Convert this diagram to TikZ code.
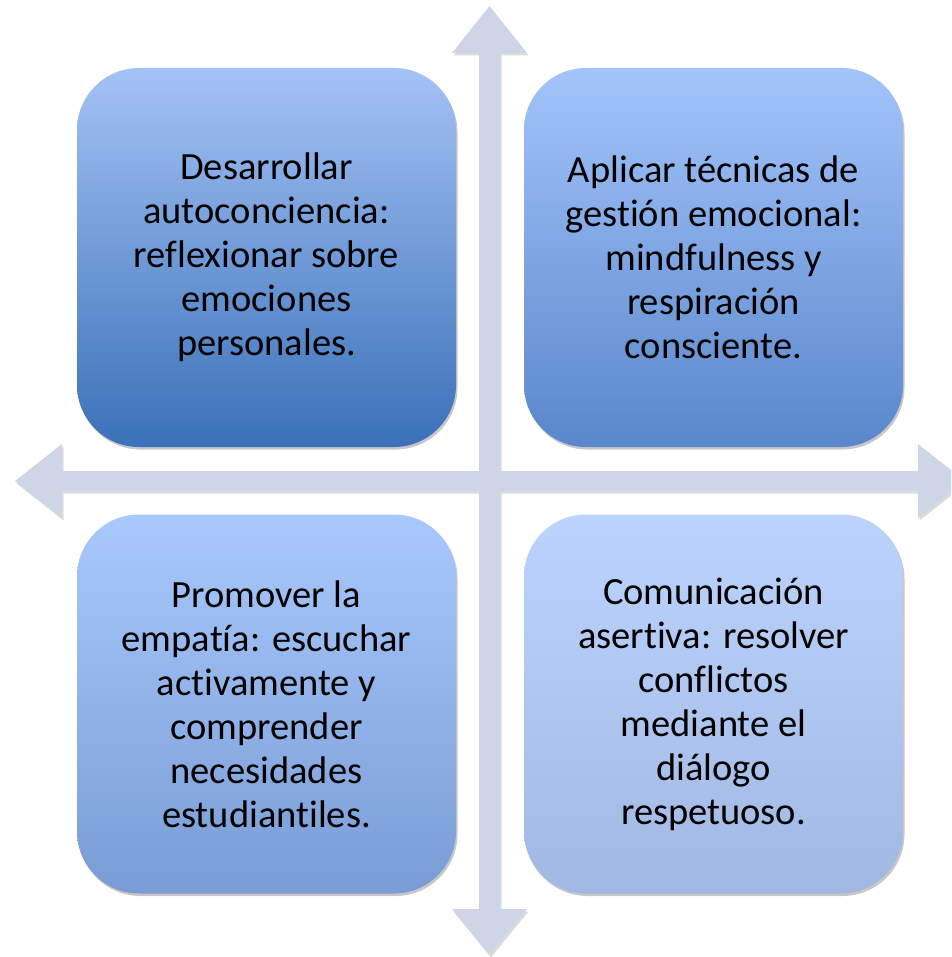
\documentclass[tikz,border=0pt]{standalone}
\usepackage{fontspec}
\setmainfont{Carlito}[RawFeature={-liga;-clig;-calt;-dlig}]
\usetikzlibrary{shadows}
\definecolor{arrowcol}{HTML}{CDD5E6}
\definecolor{tlTop}{HTML}{A4C2F5}
\definecolor{tlBot}{HTML}{3A71B8}
\definecolor{trTop}{HTML}{A3C4FB}
\definecolor{trBot}{HTML}{5A87CB}
\definecolor{blTop}{HTML}{A9C9FC}
\definecolor{blBot}{HTML}{799CD5}
\definecolor{brTop}{HTML}{BCD3FD}
\definecolor{brBot}{HTML}{A1B8E3}
\tikzset{
  quadbox/.style={rounded corners=62pt, minimum width=379pt, minimum height=379pt,
    inner sep=0pt, align=center, text=black,
    font=\fontsize{38.5}{44}\selectfont,
    drop shadow={shadow xshift=1.5pt, shadow yshift=-2.5pt, opacity=0.22, fill=black}},
}
\begin{document}
\begin{tikzpicture}[x=1pt,y=1pt]
\useasboundingbox (0,0) rectangle (951,-957);
\clip (0,0) rectangle (951,-957);
\def\crosspath{(489.5,-6) -- (527,-53) -- (500,-53) -- (500,-471) -- (918,-471) -- (918,-444) -- (965,-481) -- (918,-518) -- (918,-491) -- (500,-491) -- (500,-909) -- (527,-909) -- (489.5,-955) -- (452,-909) -- (479,-909) -- (479,-491) -- (62,-491) -- (62,-518) -- (15,-481) -- (62,-444) -- (62,-471) -- (479,-471) -- (479,-53) -- (452,-53) -- cycle}
\begin{scope}[shift={(1.5,-2.5)}]
\fill[black,opacity=0.14] \crosspath;
\end{scope}
\fill[arrowcol] \crosspath;

\node[quadbox, top color=tlTop, bottom color=tlBot] (tl) at (266.5,-257.5)
  {Desarrollar\\autoconciencia:\\reflexionar sobre\\emociones\\personales.};
\node[quadbox, top color=trTop, bottom color=trBot] (tr) at (713.5,-257.5)
  {Aplicar técnicas de\\gestión emocional:\\mindfulness y\\respiración\\consciente.};
\node[quadbox, top color=blTop, bottom color=blBot] (bl) at (266.5,-704)
  {Promover la\\empatía: escuchar\\activamente y\\comprender\\necesidades\\estudiantiles.};
\node[quadbox, top color=brTop, bottom color=brBot] (br) at (713.5,-704)
  {Comunicación\\asertiva: resolver\\conflictos\\mediante el\\diálogo\\respetuoso.};
\end{tikzpicture}
\end{document}
